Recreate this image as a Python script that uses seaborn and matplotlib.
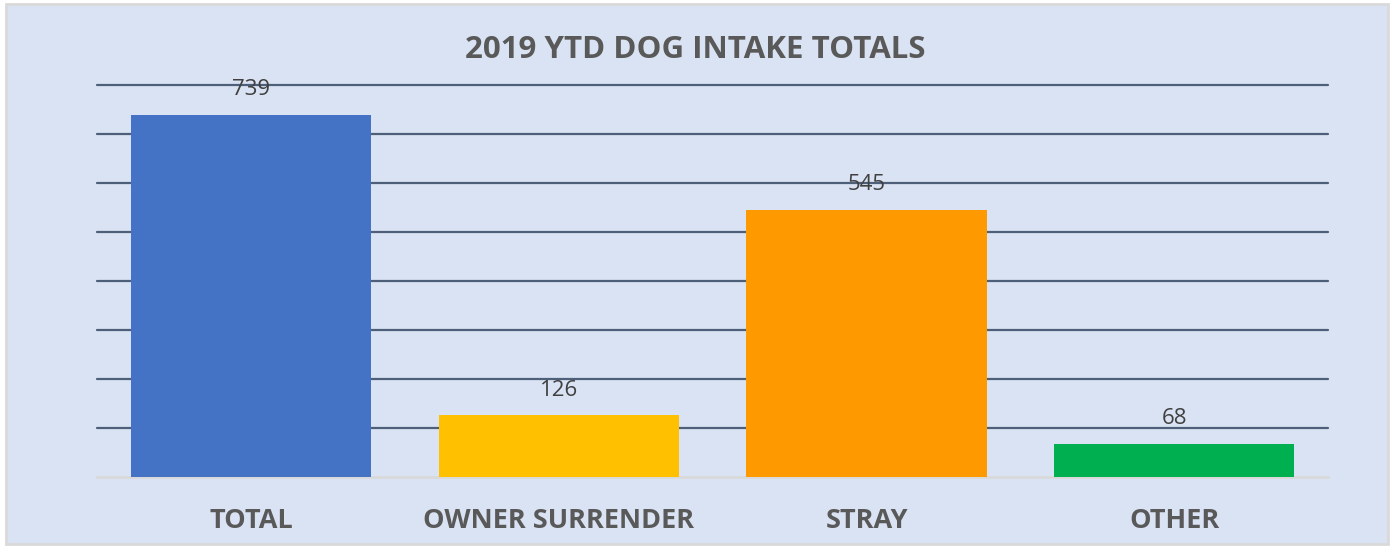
import matplotlib
matplotlib.use("Agg")
import matplotlib.pyplot as plt
from matplotlib.patches import Rectangle
import seaborn as sns
import pandas as pd

categories = ["TOTAL", "OWNER SURRENDER", "STRAY", "OTHER"]
intake = [739, 126, 545, 68]
bar_colors = ["#4472C4", "#FFC000", "#FF9900", "#00B050"]
title_text = "2019 YTD DOG INTAKE TOTALS"

df = pd.DataFrame({"category": categories, "count": intake})

sns.set_theme(style="white")
plt.rcParams["font.family"] = ["Open Sans", "DejaVu Sans"]

bg = "#DAE3F3"
fig = plt.figure(figsize=(13.94, 5.48), dpi=100, facecolor="white")
fig.patches.append(Rectangle((0.004, 0.008), 0.992, 0.985, transform=fig.transFigure,
                             facecolor=bg, edgecolor="#D9D9D9", linewidth=2, zorder=-1))

ax = fig.add_axes([0.0696, 0.1296, 0.8832, 0.7153])
ax.set_facecolor("none")

sns.barplot(data=df, x="category", y="count", hue="category", palette=bar_colors,
            order=categories, hue_order=categories, width=0.78, legend=False,
            saturation=1, linewidth=0, edgecolor="none", ax=ax, zorder=3)

ax.set_ylim(0, 800)
ax.set_xlim(-0.5, 3.5)
ax.set_yticks(range(100, 801, 100))
ax.yaxis.grid(True, color="#4E5F7A", linewidth=1.6, zorder=0)
for gl in ax.yaxis.get_gridlines():
    gl.set_clip_on(False)
ax.set_axisbelow(True)
ax.tick_params(axis="y", left=False, labelleft=False)
ax.tick_params(axis="x", bottom=False, pad=16)
for lab in ax.get_xticklabels():
    lab.set_fontsize(19.5)
    lab.set_fontweight("bold")
    lab.set_color("#595959")
ax.set_xlabel("")
ax.set_ylabel("")
for side in ["top", "right", "left"]:
    ax.spines[side].set_visible(False)
ax.spines["bottom"].set_color("#D9D9D9")
ax.spines["bottom"].set_linewidth(2)

for i, v in enumerate(intake):
    ax.annotate(str(v), (i, v), xytext=(0, 18), textcoords="offset points",
                ha="center", va="center", fontsize=16, color="#404040", zorder=5)

fig.text(0.4986, 0.908, title_text, ha="center", va="center", fontsize=22.5,
         fontweight="bold", color="#595959")

fig.savefig("out.png", dpi=100, facecolor="white")
